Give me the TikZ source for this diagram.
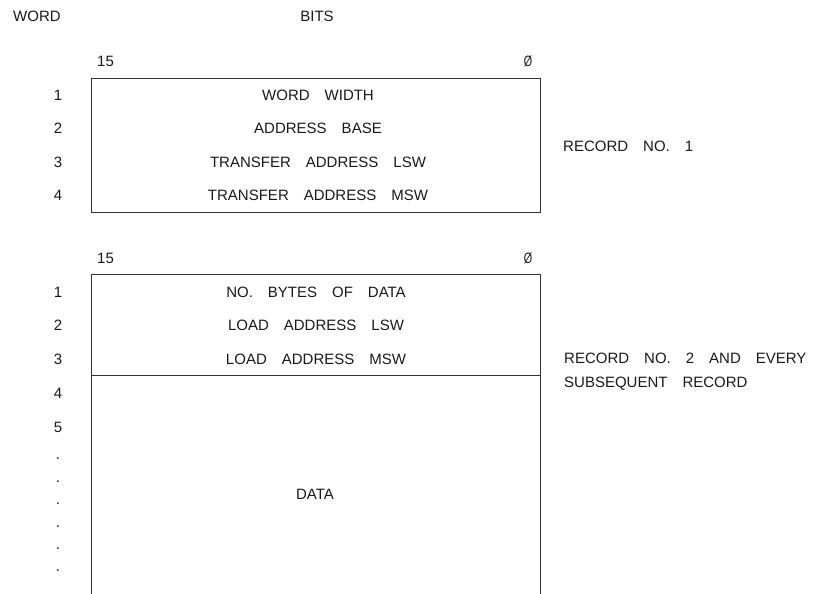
\documentclass[tikz,border=0pt]{standalone}
\usepackage{fontspec}
\setmainfont{Liberation Sans}
% wide gap between words, as in a plotter lettering
\newcommand\wg{\hspace{1.0em}}
\newcommand\slzero{\scalebox{0.72}[1]{Ø}}

\begin{document}
\begin{tikzpicture}[x=1bp,y=-1bp,
  every node/.style={inner sep=0pt, text=black!90,
    font=\fontsize{15bp}{18bp}\selectfont},
  lbl/.style={anchor=base},
  lblw/.style={anchor=base west},
  frame/.style={draw=black!80, line width=0.9bp}]
\useasboundingbox (0,0) rectangle (817,594);

% column headings
\node[lblw] (hword) at (13,22) {WORD};
\node[lbl]  (hbits) at (317,21.5) {BITS};

% ---------------- record no. 1 ----------------
\node[lblw] (b15a) at (97,67) {15};
\node[lbl]  (b0a)  at (528,67) {\slzero};
\draw[frame] (91,78) rectangle (540,212);
\foreach \n/\y/\t in {1/94.75/{WORD\wg WIDTH},
                      2/128.25/{ADDRESS\wg BASE},
                      3/161.75/{TRANSFER\wg ADDRESS\wg LSW},
                      4/195.25/{TRANSFER\wg ADDRESS\wg MSW}}{
  \node[lbl] (wa\n) at (58,\y+5.3) {\n};
  \node[lbl] (fa\n) at (318,\y+5.3) {\t};
}
\node[lblw] (rec1) at (563,152) {RECORD\wg NO.\wg 1};

% ---------------- record no. 2 ----------------
\node[lblw] (b15b) at (97,263) {15};
\node[lbl]  (b0b)  at (528,263) {\slzero};
\draw[frame] (91,594) -- (91,274) -- (540,274) -- (540,594);
\draw[frame] (91,375) -- (540,375);
\foreach \n/\y/\t in {1/292/{NO.\wg BYTES\wg OF\wg DATA},
                      2/325.5/{LOAD\wg ADDRESS\wg LSW},
                      3/359/{LOAD\wg ADDRESS\wg MSW}}{
  \node[lbl] (wb\n) at (58,\y+5.3) {\n};
  \node[lbl] (fb\n) at (316,\y+5.3) {\t};
}
\node[lbl] (wb4) at (58,398) {4};
\node[lbl] (wb5) at (58,432.5) {5};
\foreach \k/\y in {1/459,2/481.5,3/504,4/526.5,5/549,6/571}{
  \node (dot\k) at (58,\y) {.};
}
\node (data) at (315,494) {DATA};
\node[lblw] (rec2a) at (564,363.5) {RECORD\wg NO.\wg 2\wg AND\wg EVERY};
\node[lblw] (rec2b) at (564,387.5) {SUBSEQUENT\wg RECORD};
\end{tikzpicture}
\end{document}
